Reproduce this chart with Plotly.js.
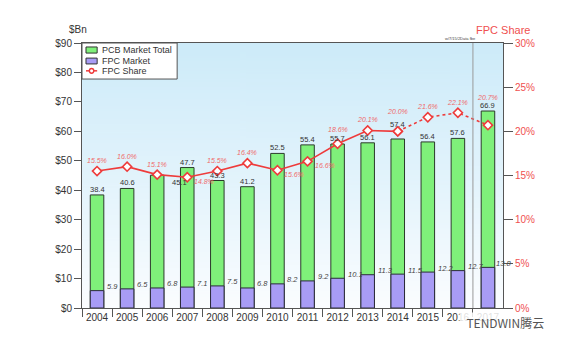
<!DOCTYPE html>
<html><head><meta charset="utf-8">
<script src="https://cdn.plot.ly/plotly-3.0.1.min.js"></script>
<style>html,body{margin:0;padding:0;background:#fff}#c{width:575px;height:343px}</style>
</head><body><div id="c"></div>
<script>
const years = ["2004","2005","2006","2007","2008","2009","2010","2011","2012","2013","2014","2015","2016","2017"];
const pcbTotal = [38.4,40.6,45.1,47.7,43.3,41.2,52.5,55.4,55.7,56.1,57.4,56.4,57.6,66.9];
const fpcMarket = [5.9,6.5,6.8,7.1,7.5,6.8,8.2,9.2,10.1,11.3,11.5,12.2,12.7,13.8];
const fpcShare = [15.5,16.0,15.1,14.8,15.5,16.4,15.6,16.6,18.6,20.1,20.0,21.6,22.1,20.7];
const leftTicks = [0,10,20,30,40,50,60,70,80,90];
const rightTicks = [0,5,10,15,20,25,30];
const legendNames = ["PCB Market Total","FPC Market","FPC Share"];

// gradient background image
const cv = document.createElement('canvas'); cv.width = 4; cv.height = 200;
const cx = cv.getContext('2d');
const g = cx.createLinearGradient(0,0,0,200);
g.addColorStop(0,'#cdebf9'); g.addColorStop(0.55,'#e4f4fc'); g.addColorStop(1,'#fbfdff');
cx.fillStyle = g; cx.fillRect(0,0,4,200);
const bg = cv.toDataURL();

const GREEN = '#7ff07a', PURPLE = '#a89cf5', RED = '#ee3b3b';
const idx = years.map((_,i)=>i);
const solidN = 11; // solid through 2014, dotted after
const traces = [
  {type:'bar', name:legendNames[0], x:idx, y:pcbTotal, width:0.45, showlegend:false,
   marker:{color:GREEN, line:{color:'#2b3a2b', width:1}}},
  {type:'bar', name:legendNames[1], x:idx, y:fpcMarket, width:0.45, showlegend:false,
   marker:{color:PURPLE, line:{color:'#2b2b3a', width:1}}},
  {type:'scatter', mode:'lines+markers', name:legendNames[2], yaxis:'y2', showlegend:false,
   x:idx.slice(0,solidN), y:fpcShare.slice(0,solidN),
   line:{color:RED, width:1.6},
   marker:{symbol:'diamond', size:7, color:'#ffffff', line:{color:RED, width:1.6}}},
  {type:'scatter', mode:'lines+markers', name:legendNames[2], yaxis:'y2', showlegend:false,
   x:idx.slice(solidN-1), y:fpcShare.slice(solidN-1),
   line:{color:RED, width:1.6, dash:'dot'},
   marker:{symbol:'diamond', size:7, color:'#ffffff', line:{color:RED, width:1.6}}},
  {type:'scatter', x:[0], y:[0], xaxis:'x2', mode:'none', showlegend:false, hoverinfo:'skip'}
];

const ann = [];
const FF = 'Liberation Sans, Arial, sans-serif';
pcbTotal.forEach((v,i)=>{
  const a = {x:i, y:v, xref:'x', yref:'y', text:v.toFixed(1), showarrow:false,
             font:{family:FF, size:7.5, color:'#333'}, yanchor:'bottom', yshift:-1};
  if (i===2) { a.xshift = 22; a.yanchor='top'; a.yshift=-1; }
  if (i===10) a.yshift = 8;
  ann.push(a);
});
fpcMarket.forEach((v,i)=>{
  ann.push({x:i, y:v, xref:'x', yref:'y', text:'<i>'+v.toFixed(1)+'</i>', showarrow:false,
    font:{family:FF, size:7.5, color:'#444'}, xanchor:'left', xshift:(i===13?6:8), yanchor:'middle', yshift:4});
});
fpcShare.forEach((v,i)=>{
  const a = {x:i, y:v, xref:'x', yref:'y2', text:'<i>'+v.toFixed(1)+'%</i>', showarrow:false,
    font:{family:FF, size:7, color:'#f06a6a'}, yanchor:'bottom', yshift:5};
  if (i===3 || i===6 || i===7) { a.xanchor='left'; a.xshift=5; a.yanchor='middle'; a.yshift=-4; }
  if (i===8) a.yshift = 9;
  if (i===10) a.yshift = 14;
  if (i===13) a.yshift = 22;
  ann.push(a);
});
ann.push({xref:'paper', yref:'paper', x:-0.01, y:1.05, xanchor:'center', yanchor:'middle', text:'$Bn', showarrow:false,
  font:{family:FF, size:10, color:'#333'}});
ann.push({xref:'paper', yref:'paper', x:1.0, y:1.05, xanchor:'center', yanchor:'middle', text:'FPC Share', showarrow:false,
  font:{family:FF, size:11, color:'#f05050'}});
ann.push({xref:'paper', yref:'paper', x:0.9, y:1.0, xanchor:'center', yanchor:'bottom', text:'w/7/15/2Data fbe', showarrow:false,
  font:{family:FF, size:4, color:'#444'}});
ann.push({xref:'paper', yref:'paper', x:0.895, y:-0.015, xanchor:'left', yanchor:'top', text:'  TENDWIN腾云', showarrow:false,
  bgcolor:'rgba(255,255,255,0.85)', font:{family:'Noto Sans CJK SC, Liberation Sans, sans-serif', size:12, color:'#555'}});
// legend labels
const legY = [0.974, 0.932, 0.894];
legendNames.forEach((n,i)=>{
  ann.push({xref:'paper', yref:'paper', x:0.043, y:legY[i], xanchor:'left', yanchor:'middle', text:n, showarrow:false,
    font:{family:FF, size:9, color:'#333'}});
});

const layout = {
  width:575, height:343,
  margin:{l:82, r:72, t:43, b:35},
  paper_bgcolor:'#ffffff', plot_bgcolor:'rgba(0,0,0,0)',
  barmode:'overlay', showlegend:false,
  font:{family:FF, size:10, color:'#333'},
  images:[{source:bg, xref:'paper', yref:'paper', x:0, y:1, sizex:1, sizey:1, sizing:'stretch', layer:'below'}],
  xaxis:{type:'linear', range:[-0.5,13.5], tickvals:idx, ticktext:years, ticks:'', showgrid:false, zeroline:false,
    showline:true, linecolor:'#555', linewidth:1, mirror:true,
    tickfont:{size:10, color:'#333', family:FF}},
  xaxis2:{overlaying:'x', range:[-0.5,13.5], tickvals:idx.map(i=>i-0.5), ticktext:idx.map(()=>''), ticks:'outside',
    ticklen:8, tickcolor:'#555', showgrid:false, zeroline:false, showline:false, anchor:'y'},
  yaxis:{range:[0,90], tickvals:leftTicks, ticktext:leftTicks.map(v=>'$'+v), ticks:'outside', ticklen:7, tickcolor:'#555',
    showline:true, linecolor:'#555', linewidth:1, showgrid:false, zeroline:false,
    tickfont:{size:10, color:'#333'}},
  yaxis2:{range:[0,30], overlaying:'y', side:'right', tickvals:rightTicks, ticktext:rightTicks.map(v=>v+'%'),
    ticks:'outside', ticklen:9, tickcolor:'#555', showline:true, linecolor:'#555', linewidth:1,
    showgrid:false, zeroline:false, tickfont:{size:10, color:'#f05050'}},
  shapes:[
    {type:'line', xref:'x', yref:'paper', x0:12.5, x1:12.5, y0:0, y1:1, line:{color:'#999', width:1}},
    // legend box
    {type:'rect', xref:'paper', yref:'paper', x0:0, x1:0.226, y0:0.864, y1:1, fillcolor:'#ffffff', line:{color:'#555', width:1}},
    {type:'rect', xref:'paper', yref:'paper', x0:0.0095, x1:0.036, y0:0.962, y1:0.985, fillcolor:GREEN, line:{color:'#333', width:1}},
    {type:'rect', xref:'paper', yref:'paper', x0:0.0095, x1:0.036, y0:0.921, y1:0.943, fillcolor:PURPLE, line:{color:'#333', width:1}},
    {type:'line', xref:'paper', yref:'paper', x0:0.0095, x1:0.036, y0:0.895, y1:0.895, line:{color:RED, width:1.5}},
    {type:'circle', xref:'paper', yref:'paper', x0:0.0175, x1:0.028, y0:0.886, y1:0.904, fillcolor:'#ffffff', line:{color:RED, width:1.4}}
  ],
  annotations:ann
};
Plotly.newPlot('c', traces, layout, {displayModeBar:false, staticPlot:true});
</script></body></html>
